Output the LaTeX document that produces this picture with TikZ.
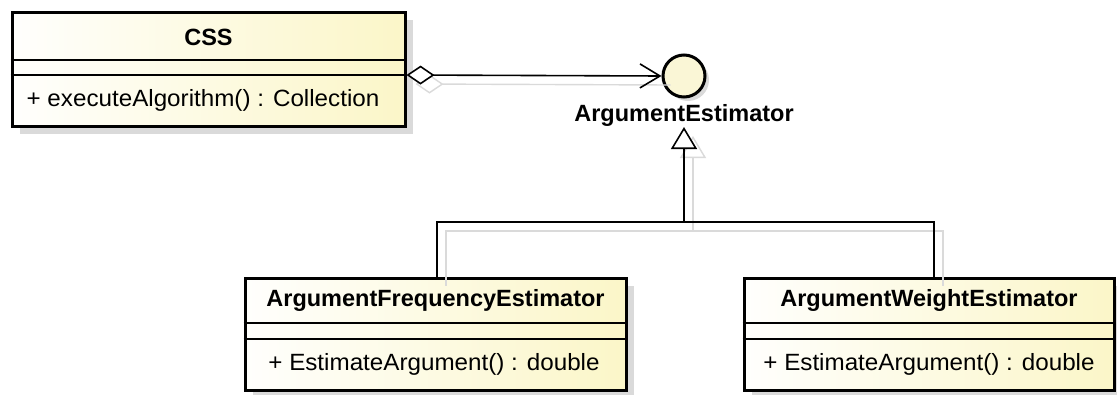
\documentclass[tikz,border=0pt]{standalone}
\usepackage{fontspec}
\setmainfont{Liberation Sans}
\usetikzlibrary{arrows.meta,shadows,calc}
\definecolor{shadowgray}{RGB}{218,218,218}
\definecolor{paleyellow}{RGB}{251,246,200}
\definecolor{circfill}{RGB}{250,246,214}
\newcommand\regtxt[1]{\scalebox{1.03}[1]{#1}}
\newcommand\boldtxt[1]{{\bfseries #1}}
\tikzset{
  classbox/.style={draw=black, line width=3pt, rectangle, inner sep=0pt,
    left color=white!96!paleyellow, right color=paleyellow,
    drop shadow={shadow xshift=8pt, shadow yshift=-8pt, fill=shadowgray, opacity=1}},
  divider/.style={draw=black, line width=1.5pt},
  umltext/.style={inner sep=0pt, font=\fontsize{23.5}{28}\selectfont},
  conn/.style={draw=black, line width=1.6pt},
  connshadow/.style={draw=shadowgray, line width=1.4pt, transform canvas={shift={(9pt,-9pt)}}},
}
\begin{document}
\begin{tikzpicture}[x=1pt, y=-1pt]
\useasboundingbox (0,0) rectangle (1117,394);

% class CSS
\node[classbox, minimum width=393pt, minimum height=114pt] (css) at (208.5,69) {};
\draw[divider] (css.west |- 0,60) -- (css.east |- 0,60);
\draw[divider] (css.west |- 0,75) -- (css.east |- 0,75);
\node[umltext] (cssname) at (208.5,37) {\boldtxt{CSS}};
\node[umltext] (cssop) at (203,100) {\regtxt{+ executeAlgorithm() : Collection}};

% interface ArgumentEstimator
\node[circle, draw=black, line width=3pt, fill=circfill, minimum size=42pt, inner sep=0pt,
  drop shadow={shadow xshift=4pt, shadow yshift=-4pt, fill=shadowgray, opacity=1}] (iface) at (684,76) {};
\node[umltext] (ifacename) at (684,115) {\boldtxt{ArgumentEstimator}};
\coordinate (gtip) at (684,127);
\coordinate (hub) at (684,222);

% class ArgumentFrequencyEstimator
\node[classbox, minimum width=381pt, minimum height=112pt] (freq) at (435.5,334) {};
\draw[divider] (freq.west |- 0,323) -- (freq.east |- 0,323);
\draw[divider] (freq.west |- 0,339) -- (freq.east |- 0,339);
\node[umltext] (freqname) at (435.5,300) {\boldtxt{ArgumentFrequencyEstimator}};
\node[umltext] (freqop) at (434,364) {\regtxt{+ EstimateArgument() : double}};

% class ArgumentWeightEstimator
\node[classbox, minimum width=370pt, minimum height=112pt] (weight) at (929,334) {};
\draw[divider] (weight.west |- 0,323) -- (weight.east |- 0,323);
\draw[divider] (weight.west |- 0,339) -- (weight.east |- 0,339);
\node[umltext] (weightname) at (929,300) {\boldtxt{ArgumentWeightEstimator}};
\node[umltext] (weightop) at (929,364) {\regtxt{+ EstimateArgument() : double}};

% connector shadows
\draw[connshadow, {Diamond[open, length=28pt, width=19pt, fill=white]}-] (css.east |- 0,75) -- (iface.west);
\draw[connshadow] ($(freq.north)+(1.5,0)$) |- (hub) -| ($(weight.north)+(5,0)$);
\draw[connshadow, -{Triangle[open, length=22pt, width=26pt, fill=white]}] (hub) -- (gtip);

% aggregation
\draw[conn, {Diamond[open, length=28pt, width=19pt, fill=white, line width=1.6pt]}-{Straight Barb[length=20pt, width=24pt, line width=1.6pt]}]
  (css.east |- 0,75) -- (iface.west);

% realization
\draw[conn] ($(freq.north)+(1.5,0)$) |- (hub) -| ($(weight.north)+(5,0)$);
\draw[conn, -{Triangle[open, length=22pt, width=26pt, fill=white, line width=1.6pt]}] (hub) -- (gtip);
\end{tikzpicture}
\end{document}
